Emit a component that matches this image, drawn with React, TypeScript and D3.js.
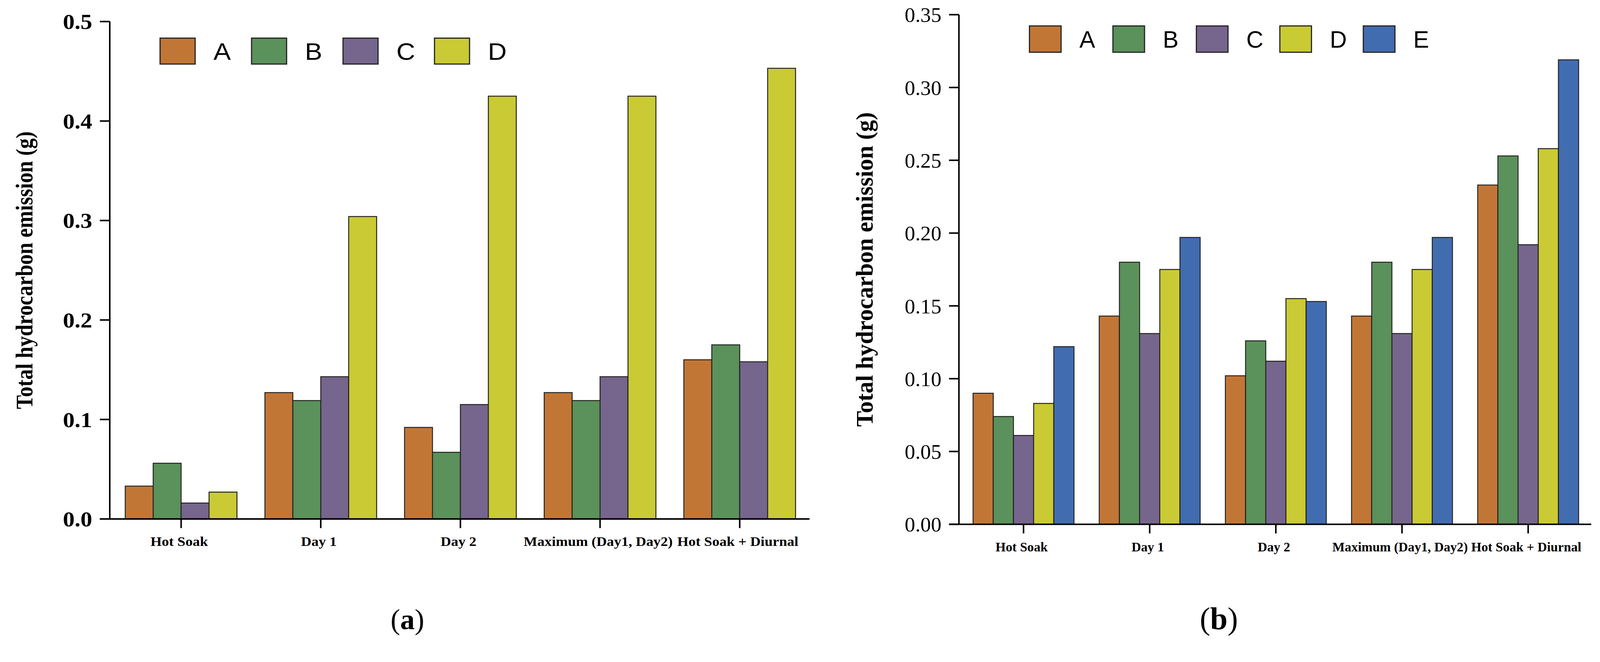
import React from "react";
import * as d3 from "d3";

const categories = ["Hot Soak", "Day 1", "Day 2", "Maximum (Day1, Day2)", "Hot Soak + Diurnal"];

const seriesA = ["A", "B", "C", "D"];
const valuesA_A = [0.033, 0.127, 0.092, 0.127, 0.160];
const valuesA_B = [0.056, 0.119, 0.067, 0.119, 0.175];
const valuesA_C = [0.016, 0.143, 0.115, 0.143, 0.158];
const valuesA_D = [0.027, 0.304, 0.425, 0.425, 0.453];
const ticksA = [0.0, 0.1, 0.2, 0.3, 0.4, 0.5];

const seriesB = ["A", "B", "C", "D", "E"];
const valuesB_A = [0.090, 0.143, 0.102, 0.143, 0.233];
const valuesB_B = [0.074, 0.180, 0.126, 0.180, 0.253];
const valuesB_C = [0.061, 0.131, 0.112, 0.131, 0.192];
const valuesB_D = [0.083, 0.175, 0.155, 0.175, 0.258];
const valuesB_E = [0.122, 0.197, 0.153, 0.197, 0.319];
const ticksB = [0.0, 0.05, 0.1, 0.15, 0.2, 0.25, 0.3, 0.35];

const colors: Record<string, string> = {
  A: "#C27636",
  B: "#5B915A",
  C: "#76658C",
  D: "#C9CA34",
  E: "#416CB0",
};

const serif = "'Liberation Serif', 'Times New Roman', serif";
const sans = "'Liberation Sans', Arial, sans-serif";

type PanelProps = {
  series: string[];
  values: number[][];
  ticks: number[];
  yMax: number;
  x0: number;
  x1: number;
  yTop: number;
  yBottom: number;
  tickFmt: (v: number) => string;
  tickFont: number;
  tickBold: boolean;
  xFont: number;
  sx: number;
  yLabelX: number;
  yLabelFont: number;
  yLabelAlong: number;
  yLabelAcross: number;
  legendX: number;
  legendStep: number;
  legendY: number;
  swW: number;
  swH: number;
  caption: string;
  captionX: number;
  captionFont: number;
};

function Panel(p: PanelProps) {
  const x = d3.scaleBand<string>().domain(categories).range([p.x0 + 4, p.x1]).paddingInner(0.2).paddingOuter(0.1);
  const xs = d3.scaleBand<string>().domain(p.series).range([0, x.bandwidth()]).padding(0);
  const y = d3.scaleLinear().domain([0, p.yMax]).range([p.yBottom, p.yTop]);
  const yMid = (p.yTop + p.yBottom) / 2;
  return (
    <g>
      {categories.map((c, ci) => (
        <g key={c} transform={`translate(${x(c)},0)`}>
          {p.series.map((s, si) => {
            const v = p.values[si][ci];
            return (
              <rect
                key={s}
                x={xs(s)}
                y={y(v)}
                width={xs.bandwidth()}
                height={y(0) - y(v)}
                fill={colors[s]}
                stroke="#222"
                strokeWidth={2.5}
              />
            );
          })}
        </g>
      ))}
      <line x1={p.x0} x2={p.x0} y1={y(p.yMax)} y2={y(0)} stroke="#000" strokeWidth={4} />
      {p.ticks.map((t) => (
        <g key={t}>
          <line x1={p.x0 - 26} x2={p.x0} y1={y(t)} y2={y(t)} stroke="#000" strokeWidth={4} />
          <text
            transform={`translate(${p.x0 - 46},${y(t)}) scale(${p.sx},1)`}
            dy="0.35em"
            textAnchor="end"
            fontFamily={serif}
            fontWeight={p.tickBold ? "bold" : "normal"}
            fontSize={p.tickFont}
          >
            {p.tickFmt(t)}
          </text>
        </g>
      ))}
      <line x1={p.x0 - 26} x2={p.x1} y1={y(0)} y2={y(0)} stroke="#000" strokeWidth={4} />
      {categories.map((c) => {
        const cx = (x(c) as number) + x.bandwidth() / 2;
        return (
          <g key={c}>
            <line x1={cx} x2={cx} y1={y(0)} y2={y(0) + 24} stroke="#000" strokeWidth={4} />
            <text
              transform={`translate(${cx - 5},${y(0) + 71}) scale(${p.sx},1)`}
              textAnchor="middle"
              fontFamily={serif}
              fontWeight="bold"
              fontSize={p.xFont}
            >
              {c}
            </text>
          </g>
        );
      })}
      <text
        transform={`translate(${p.yLabelX},${yMid}) rotate(-90) scale(${p.yLabelAlong},${p.yLabelAcross})`}
        textAnchor="middle"
        fontFamily={serif}
        fontWeight="bold"
        fontSize={p.yLabelFont}
      >
        Total hydrocarbon emission (g)
      </text>
      {p.series.map((s, i) => (
        <g key={s} transform={`translate(${p.legendX + i * p.legendStep},${p.legendY})`}>
          <rect x={0} y={0} width={p.swW} height={p.swH} fill={colors[s]} stroke="#222" strokeWidth={3} />
          <text
            transform={`translate(${p.swW + 48},${p.swH / 2}) scale(${p.sx},1)`}
            dy="0.36em"
            fontFamily={sans}
            fontSize={62}
          >
            {s}
          </text>
        </g>
      ))}
      <text x={p.captionX} y={1650} textAnchor="middle" fontFamily={serif} fontSize={p.captionFont}>
        (<tspan fontWeight="bold">{p.caption}</tspan>)
      </text>
    </g>
  );
}

export default function App() {
  return (
    <svg
      viewBox="0 0 4198 1694"
      preserveAspectRatio="xMinYMin meet"
      style={{
        position: "fixed",
        left: 0,
        top: 0,
        width: "100vw",
        height: "100vh",
        background: "#fff",
        display: "block",
      }}
    >
      <rect x={0} y={0} width={4198} height={1694} fill="#fff" />
      <Panel
        series={seriesA}
        values={[valuesA_A, valuesA_B, valuesA_C, valuesA_D]}
        ticks={ticksA}
        yMax={0.5}
        x0={288}
        x1={2124}
        yTop={56.5}
        yBottom={1361}
        tickFmt={(v) => d3.format(".1f")(v)}
        tickFont={56}
        tickBold={true}
        xFont={34.5}
        sx={1.1}
        yLabelX={85}
        yLabelFont={57}
        yLabelAlong={0.96}
        yLabelAcross={1.1}
        legendX={420}
        legendStep={240}
        legendY={100}
        swW={92}
        swH={68}
        caption="a"
        captionX={1069}
        captionFont={76}
      />
      <Panel
        series={seriesB}
        values={[valuesB_A, valuesB_B, valuesB_C, valuesB_D, valuesB_E]}
        ticks={ticksB}
        yMax={0.35}
        x0={2516}
        x1={4175}
        yTop={38.5}
        yBottom={1375}
        tickFmt={(v) => d3.format(".2f")(v)}
        tickFont={55}
        tickBold={false}
        xFont={34.5}
        sx={1}
        yLabelX={2290}
        yLabelFont={62}
        yLabelAlong={1}
        yLabelAcross={1}
        legendX={2701}
        legendStep={219}
        legendY={68}
        swW={83}
        swH={69}
        caption="b"
        captionX={3198}
        captionFont={82}
      />
    </svg>
  );
}
